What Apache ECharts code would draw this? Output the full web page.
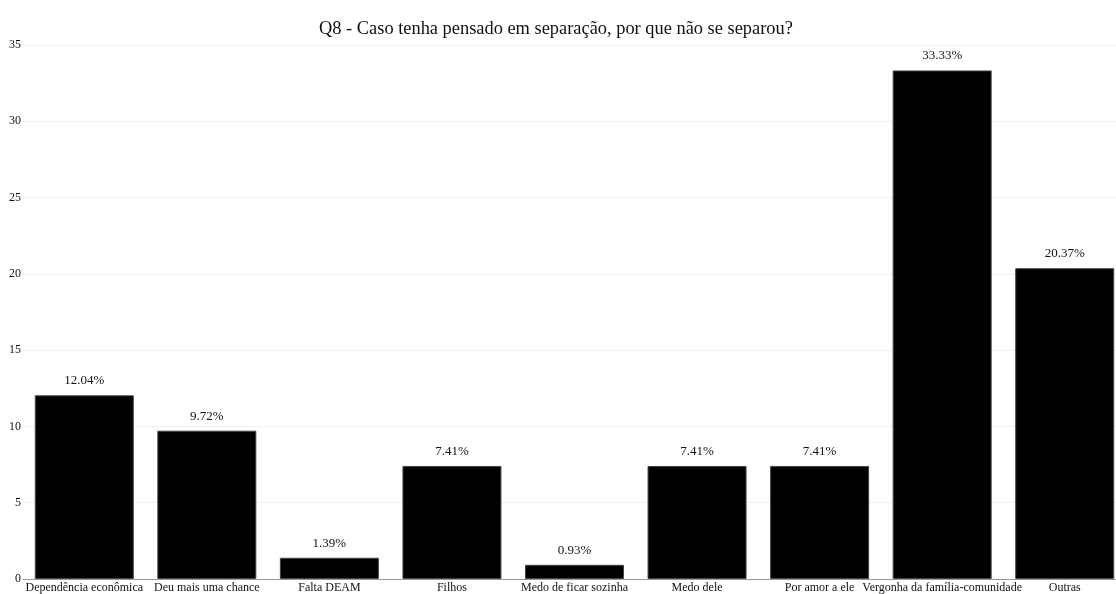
<!DOCTYPE html>
<html>
<head>
  <meta charset="utf-8" />
  <script src="https://cdn.jsdelivr.net/npm/echarts@6/dist/echarts.min.js"></script>
  <style>
    html, body { margin: 0; padding: 0; background: #fff; overflow: hidden; }
    /* um pouco mais largo que a janela: a última barra fica cortada como no original */
    #main { width: 1126px; height: 594px; }
  </style>
  <title>Q8</title>
</head>
<body>
  <div id="main"></div>
  <script>
    // categorias e valores (%)
    var categories = ['Dependência econômica', 'Deu mais uma chance', 'Falta DEAM', 'Filhos',
      'Medo de ficar sozinha', 'Medo dele', 'Por amor a ele', 'Vergonha da família-comunidade', 'Outras'];
    var values = [12.04, 9.72, 1.39, 7.41, 0.93, 7.41, 7.41, 33.33, 20.37];
    var yTicks = [0, 5, 10, 15, 20, 25, 30, 35];

    var serif = '"Liberation Serif", "DejaVu Serif", serif';
    var myChart = echarts.init(document.getElementById('main'));

    var option = {
      animation: false,
      title: {
        text: 'Q8 - Caso tenha pensado em separação, por que não se separou?',
        left: 314,
        top: 15,
        textStyle: { fontFamily: serif, fontSize: 18.4, fontWeight: 'normal', color: '#111' }
      },
      grid: { left: 23, top: 45, right: 0, bottom: 14, containLabel: false },
      xAxis: {
        type: 'category',
        data: categories,
        axisLine: { lineStyle: { color: '#999' } },
        axisTick: { show: false },
        axisLabel: { interval: 0, margin: 3, color: '#111', fontFamily: serif, fontSize: 12 }
      },
      yAxis: {
        type: 'value',
        min: yTicks[0],
        max: yTicks[yTicks.length - 1],
        interval: 5,
        axisLine: { show: false },
        axisTick: { show: false },
        splitLine: { lineStyle: { color: '#f0f0f0' } },
        axisLabel: { margin: 2, color: '#111', fontFamily: serif, fontSize: 12 }
      },
      series: [{
        type: 'bar',
        data: values,
        barWidth: 99,
        itemStyle: { color: '#000', borderColor: '#444', borderWidth: 1 },
        label: {
          show: true,
          position: 'top',
          distance: 8,
          formatter: function (p) { return p.value.toFixed(2) + '%'; },
          color: '#111',
          fontFamily: serif,
          fontSize: 13
        }
      }]
    };
    myChart.setOption(option);
  </script>
</body>
</html>
